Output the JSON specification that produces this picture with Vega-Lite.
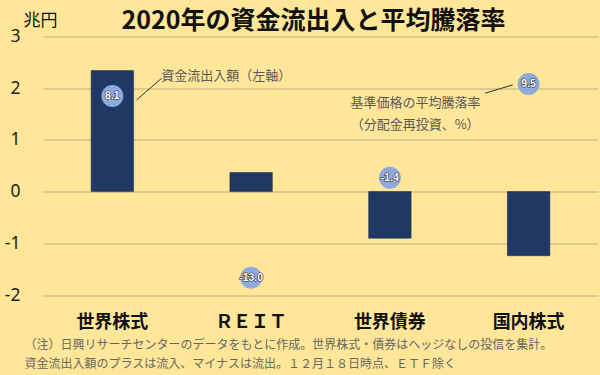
{
  "$schema": "https://vega.github.io/schema/vega-lite/v6.json",
  "width": 555,
  "height": 258.5,
  "autosize": {"type": "none"},
  "padding": {"left": 43, "top": 36.5, "right": 2, "bottom": 80},
  "background": "#FFE699",
  "config": {
    "view": {"stroke": null},
    "font": "Noto Sans CJK JP",
    "locale": {"number": {"decimal": ".", "thousands": ",", "grouping": [3], "currency": ["$", ""], "minus": "-"}}
  },
  "title": {
    "text": "2020年の資金流出入と平均騰落率",
    "fontSize": 25,
    "fontWeight": "bold",
    "color": "#111111",
    "font": "Noto Sans CJK JP",
    "anchor": "middle",
    "frame": "group",
    "dx": -7,
    "dy": 28,
    "offset": 6
  },
  "data": {
    "values": [
      {"cat": "世界株式", "flow": 2.34, "ret": 8.1},
      {"cat": "ＲＥＩＴ", "flow": 0.37, "ret": -13.0},
      {"cat": "世界債券", "flow": -0.9, "ret": -1.4},
      {"cat": "国内株式", "flow": -1.24, "ret": 9.5}
    ]
  },
  "resolve": {"scale": {"x": "independent", "y": "independent"}},
  "layer": [
    {
      "mark": {"type": "bar", "color": "#1F3864", "stroke": "#14264a", "strokeWidth": 0.5},
      "encoding": {
        "x": {
          "field": "cat",
          "type": "nominal",
          "sort": null,
          "scale": {"paddingInner": 0.694, "paddingOuter": 0.347},
          "axis": {
            "title": [
              "（注）日興リサーチセンターのデータをもとに作成。世界株式・債券はヘッジなしの投信を集計。",
              "資金流出入額のプラスは流入、マイナスは流出。１２月１８日時点、ＥＴＦ除く"
            ],
            "titleFont": "Noto Sans CJK JP",
            "titleFontSize": 12,
            "titleFontWeight": "normal",
            "titleColor": "#666666",
            "titleAnchor": "start",
            "titleAlign": "left",
            "titleBaseline": "top",
            "titleX": -19,
            "titleY": 44,
            "titleLineHeight": 19,
            "labelAngle": 0,
            "labelFont": "Noto Sans CJK JP",
            "labelFontSize": 18,
            "labelFontWeight": "bold",
            "labelColor": "#111111",
            "labelPadding": 18,
            "domain": false,
            "ticks": false
          }
        },
        "y": {
          "field": "flow",
          "type": "quantitative",
          "scale": {"domain": [-2, 3], "nice": false, "zero": false},
          "axis": {
            "values": [-2, -1, 0, 1, 2, 3],
            "title": "兆円",
            "titleAngle": 0,
            "titleAlign": "left",
            "titleBaseline": "top",
            "titleX": -20,
            "titleY": -24,
            "titleFont": "Noto Sans CJK JP",
            "titleFontSize": 17,
            "titleFontWeight": "normal",
            "titleColor": "#111111",
            "labelFont": "Noto Sans",
            "labelFontSize": 17.5,
            "labelColor": "#222222",
            "labelPadding": 23,
            "domain": false,
            "ticks": false,
            "grid": true,
            "gridColor": "#BFAE84",
            "gridWidth": 1
          }
        }
      }
    },
    {
      "encoding": {
        "x": {
          "field": "cat",
          "type": "nominal",
          "sort": null,
          "scale": {"paddingInner": 0.694, "paddingOuter": 0.347},
          "axis": null
        },
        "y": {
          "field": "ret",
          "type": "quantitative",
          "scale": {"domain": [-15, 15], "nice": false, "zero": false},
          "axis": null
        }
      },
      "layer": [
        {"mark": {"type": "point", "filled": true, "shape": "circle", "size": 480, "color": "#8EA9DB", "opacity": 1}},
        {
          "mark": {"type": "text", "font": "Liberation Sans", "fontSize": 10.5, "fontWeight": "bold", "color": "#333333", "stroke": "#333333", "strokeWidth": 1.2, "strokeJoin": "round"},
          "encoding": {"text": {"field": "ret", "type": "quantitative", "format": ".1f"}}
        },
        {
          "mark": {"type": "text", "font": "Liberation Sans", "fontSize": 10.5, "fontWeight": "bold", "color": "#ffffff"},
          "encoding": {"text": {"field": "ret", "type": "quantitative", "format": ".1f"}}
        }
      ]
    },
    {
      "layer": [
        {
          "data": {
            "values": [
              {"x1": 0.675, "y1": 1.774, "x2": 0.855, "y2": 2.193},
              {"x1": 3.186, "y1": 1.903, "x2": 3.385, "y2": 2.064}
            ]
          },
          "mark": {"type": "rule", "color": "#333333", "strokeWidth": 1},
          "encoding": {
            "x": {"field": "x1", "type": "quantitative", "scale": {"domain": [0, 4], "nice": false, "zero": false}, "axis": null},
            "x2": {"field": "x2"},
            "y": {"field": "y1", "type": "quantitative", "scale": {"domain": [-2, 3], "nice": false, "zero": false}, "axis": null},
            "y2": {"field": "y2"}
          }
        },
        {
          "data": {
            "values": [
              {"ax": 1.32, "ay": 2.244, "label": "資金流出入額（左軸）"},
              {"ax": 2.685, "ay": 1.716, "label": "基準価格の平均騰落率"},
              {"ax": 2.682, "ay": 1.29, "label": "（分配金再投資、%）"}
            ]
          },
          "mark": {"type": "text", "font": "Noto Sans CJK JP", "fontSize": 13, "color": "#595959", "align": "center", "baseline": "middle"},
          "encoding": {
            "x": {"field": "ax", "type": "quantitative", "scale": {"domain": [0, 4], "nice": false, "zero": false}, "axis": null},
            "y": {"field": "ay", "type": "quantitative", "scale": {"domain": [-2, 3], "nice": false, "zero": false}, "axis": null},
            "text": {"field": "label"}
          }
        }
      ]
    }
  ]
}
